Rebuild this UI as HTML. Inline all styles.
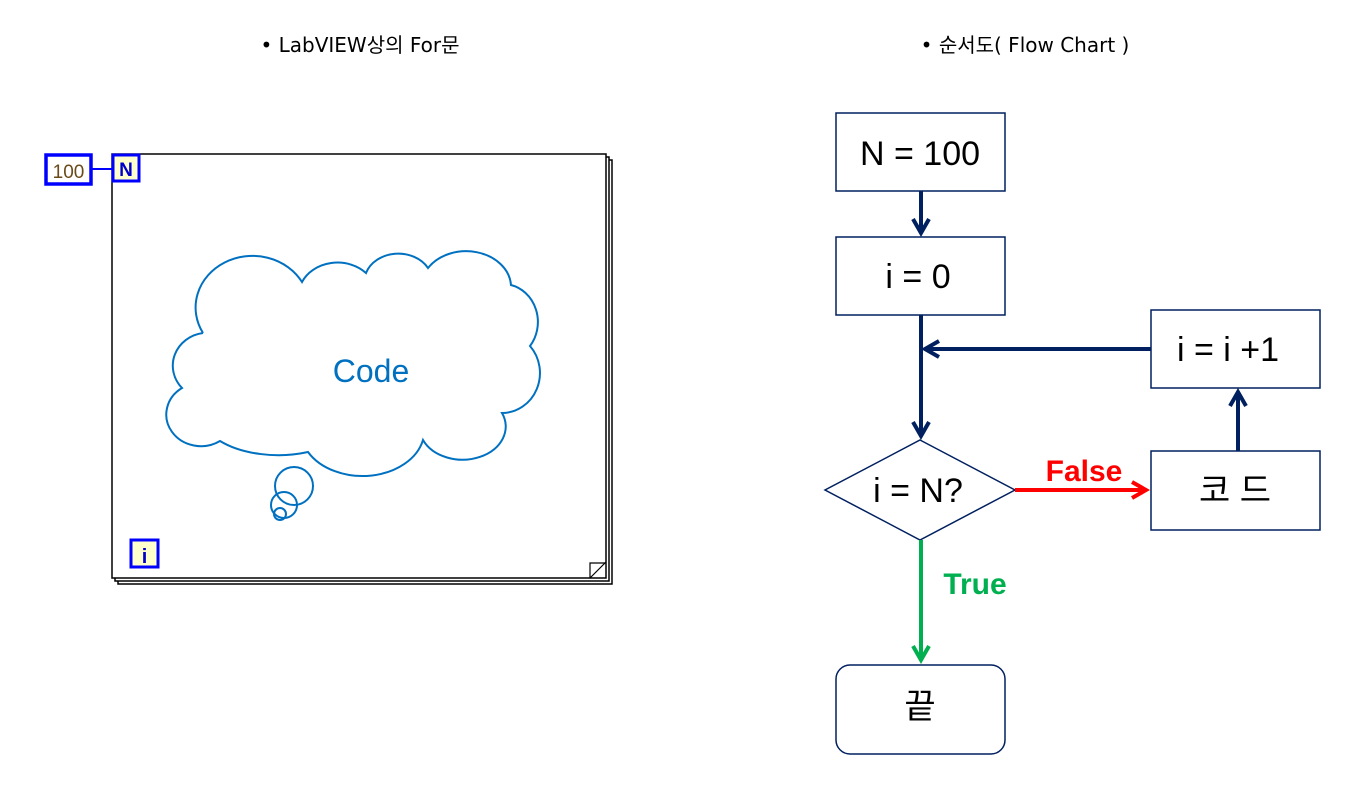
<!DOCTYPE html>
<html><head><meta charset="utf-8"><style>
body{margin:0;background:#fff;width:1363px;height:808px;overflow:hidden}
svg{display:block}
text{font-family:"Liberation Sans","Noto Sans CJK KR",sans-serif}
</style></head><body>
<svg width="1363" height="808" viewBox="0 0 1363 808" xmlns="http://www.w3.org/2000/svg">
<defs>
<marker id="an" viewBox="0 0 10 10" refX="8" refY="5" markerWidth="5" markerHeight="5" orient="auto"><path d="M1,1 L8,5 L1,9" fill="none" stroke="#002060" stroke-width="2"/></marker>
<marker id="ar" viewBox="0 0 10 10" refX="8" refY="5" markerWidth="5" markerHeight="5" orient="auto"><path d="M1,1 L8,5 L1,9" fill="none" stroke="#ff0000" stroke-width="2"/></marker>
<marker id="ag" viewBox="0 0 10 10" refX="8" refY="5" markerWidth="5" markerHeight="5" orient="auto"><path d="M1,1 L8,5 L1,9" fill="none" stroke="#00b050" stroke-width="2"/></marker>
</defs>
<text x="360" y="52" font-size="20" text-anchor="middle" style="font-family:'DejaVu Sans','Noto Sans CJK KR',sans-serif">•  LabVIEW상의 For문</text>
<text x="1025" y="52" font-size="20" text-anchor="middle" style="font-family:'DejaVu Sans','Noto Sans CJK KR',sans-serif">•  순서도( Flow Chart )</text>

<rect x="118" y="160" width="494" height="424" fill="#fff" stroke="#000" stroke-width="1.5"/>
<rect x="115" y="157" width="494" height="424" fill="#fff" stroke="#000" stroke-width="1.5"/>
<rect x="112" y="154" width="494" height="424" fill="#fff" stroke="#000" stroke-width="1.5"/>
<path d="M590,578 L606,562" stroke="#000" stroke-width="1.2" fill="none"/>
<path d="M590,578 L590,563 L606,563" stroke="#000" stroke-width="1.2" fill="none"/>
<line x1="90" y1="169" x2="113" y2="169" stroke="#0000ff" stroke-width="2"/>
<rect x="46" y="155" width="45" height="29" fill="#fff" stroke="#0000ff" stroke-width="3.5"/>
<text x="68.5" y="178" font-size="19" text-anchor="middle" fill="#6b4a1a">100</text>
<rect x="113" y="155" width="26" height="26" fill="#ffffcc" stroke="#0000ff" stroke-width="3"/>
<text x="126" y="176" font-size="19" font-weight="bold" text-anchor="middle" fill="#0000cc">N</text>
<rect x="131" y="540" width="27" height="27" fill="#ffffcc" stroke="#0000ff" stroke-width="3"/>
<text x="144.5" y="563" font-size="20" font-weight="bold" text-anchor="middle" fill="#0000cc">i</text>

<g fill="none" stroke="#0070c0" stroke-width="2">
<path d="M203,333 A54 49 0 0 1 302,282 A39 33 0 0 1 366,273 A34 28 0 0 1 428,268 A45 36 0 0 1 511,285 A35 38 0 0 1 530,346 A38 40 0 0 1 502,413 A43 33 0 0 1 423,440 A62 46 0 0 1 308,452 A78 42 0 0 1 220,441 A34 31 0 0 1 182,388 A35 33 0 0 1 203,333"/>
<circle cx="294" cy="486" r="19"/>
<circle cx="284" cy="505" r="13"/>
<circle cx="280" cy="514" r="6"/>
</g>
<text x="371" y="382" font-size="32" text-anchor="middle" fill="#0070c0">Code</text>

<g fill="#fff" stroke="#002060" stroke-width="1.5">
<rect x="836" y="113" width="169" height="78"/>
<rect x="836" y="237" width="169" height="78"/>
<rect x="1151" y="310" width="169" height="78"/>
<rect x="1151" y="451" width="169" height="79"/>
<rect x="836" y="665" width="169" height="89" rx="14"/>
<path d="M920,440 L1015,490 L920,540 L825,490 Z"/>
</g>
<g stroke="#002060" stroke-width="4" fill="none">
<line x1="921" y1="191" x2="921" y2="233" marker-end="url(#an)"/>
<line x1="921" y1="315" x2="921" y2="436" marker-end="url(#an)"/>
<line x1="1151" y1="349" x2="925" y2="349" marker-end="url(#an)"/>
<line x1="1238" y1="451" x2="1238" y2="392" marker-end="url(#an)"/>
</g>
<line x1="1015" y1="490" x2="1146" y2="490" stroke="#ff0000" stroke-width="4" marker-end="url(#ar)"/>
<line x1="921" y1="540" x2="921" y2="660" stroke="#00b050" stroke-width="4" marker-end="url(#ag)"/>
<g font-size="34" text-anchor="middle" fill="#000">
<text x="920" y="165">N = 100</text>
<text x="918" y="288">i = 0</text>
<text x="1228" y="361">i = i +1</text>
<text x="1235" y="502">코 드</text>
<text x="918" y="502">i = N?</text>
<text x="920" y="718">끝</text>
</g>
<text x="1084" y="481" font-size="30" font-weight="bold" fill="#ff0000" text-anchor="middle">False</text>
<text x="975" y="594" font-size="30" font-weight="bold" fill="#00b050" text-anchor="middle">True</text>
</svg>
</body></html>
